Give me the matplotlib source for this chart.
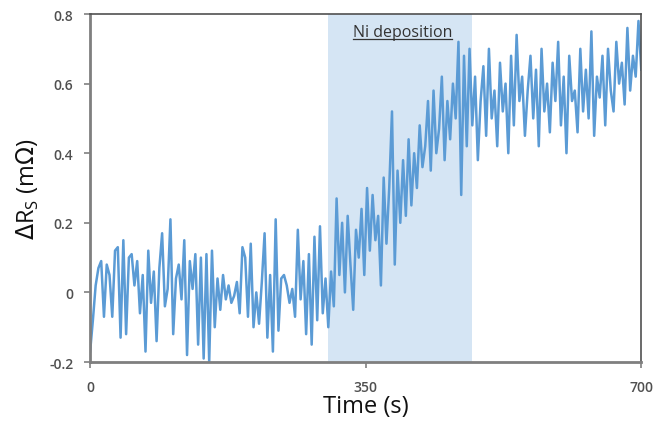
import numpy as np
import matplotlib
matplotlib.use("Agg")
import matplotlib.pyplot as plt

# sheet resistance change (evenly spaced over 0-700 s)
baseline = [
    -0.17, -0.08, 0.02, 0.07, 0.09, -0.07, 0.08, 0.05, -0.07, 0.12,
    0.13, -0.13, 0.15, -0.12, 0.10, 0.11, 0.02, 0.09, -0.06, 0.05,
    -0.17, 0.12, -0.03, 0.06, -0.14, 0.07, 0.17, -0.04, 0.01, 0.21,
    -0.12, 0.04, 0.08, -0.02, 0.15, -0.18, 0.09, 0.01, 0.11, -0.15,
    0.10, -0.19, 0.11, -0.20, 0.12, -0.10, 0.04, -0.05, 0.05, -0.02,
    0.02, -0.03, -0.01, 0.03, -0.06, 0.13, 0.10, -0.07, 0.14, -0.10,
    0.00, -0.09, 0.03, 0.17, -0.13, 0.05, -0.17, 0.21, -0.11, 0.04,
    0.05, 0.02, -0.03, 0.01, -0.07, 0.18, -0.02, 0.09, -0.12, 0.11,
    -0.15, 0.16, -0.08, 0.19, -0.06, 0.04, -0.10,
]
rising = [
    0.06, -0.04, 0.27, 0.05, 0.20, 0.00, 0.22, 0.08, -0.05, 0.18,
    0.10, 0.24, 0.05, 0.30, 0.12, 0.28, 0.15, 0.22, 0.02, 0.33,
    0.14, 0.30, 0.52, 0.08, 0.35, 0.20, 0.38, 0.22, 0.44, 0.25,
    0.40, 0.30, 0.48, 0.36,
]
transition = [
    0.42, 0.55, 0.35, 0.58, 0.40, 0.47, 0.62, 0.38, 0.55, 0.44,
    0.60, 0.50, 0.72, 0.28, 0.68, 0.42, 0.70,
]
plateau = [
    0.48, 0.62, 0.38, 0.55, 0.65, 0.45, 0.70, 0.50, 0.58, 0.42,
    0.66, 0.52, 0.60, 0.40, 0.68, 0.48, 0.74, 0.55, 0.62, 0.45,
    0.58, 0.68, 0.50, 0.64, 0.42, 0.70, 0.52, 0.60, 0.46, 0.66,
    0.55, 0.72, 0.48, 0.62, 0.40, 0.68, 0.55, 0.58, 0.46, 0.70,
    0.52, 0.64, 0.50, 0.75, 0.45, 0.62, 0.56, 0.68, 0.48, 0.70,
    0.58, 0.52, 0.72, 0.60, 0.66, 0.54, 0.76, 0.58, 0.68, 0.62,
    0.78, 0.64,
]
delta_rs = baseline + rising + transition + plateau
t_end = 700
time = np.arange(len(delta_rs)) * t_end / (len(delta_rs) - 1)

deposition = (302, 485)
x_ticks = [0, 350, 700]
y_ticks = [-0.2, 0, 0.2, 0.4, 0.6, 0.8]
y_ticklabels = ["-0.2", "0", "0.2", "0.4", "0.6", "0.8"]

plt.rcParams["font.family"] = ["Open Sans", "DejaVu Sans"]

fig = plt.figure(figsize=(6.53, 4.35), dpi=100)
ax = fig.add_axes([0.138, 0.1655, 0.844, 0.80])

ax.axvspan(*deposition, color="#d5e5f4", zorder=0, lw=0)
ax.plot(time, delta_rs, color="#5b9bd5", lw=1.8, zorder=2)

ax.set_xlim(0, 700)
ax.set_ylim(-0.2, 0.8)
ax.set_xticks(x_ticks)
ax.set_xticklabels([str(v) for v in x_ticks])
ax.set_yticks(y_ticks)
ax.set_yticklabels(y_ticklabels)
ax.tick_params(axis="both", direction="out", length=4, width=1.2,
               color="#808080", labelcolor="#505050", labelsize=10)
ax.tick_params(axis="x", pad=9)
ax.tick_params(axis="y", pad=8)
for lab in ax.get_xticklabels() + ax.get_yticklabels():
    lab.set_fontweight("semibold")

for side in ("left", "bottom"):
    ax.spines[side].set_color("#7f7f7f")
    ax.spines[side].set_linewidth(2)
for side in ("top", "right"):
    ax.spines[side].set_color("#505050")
    ax.spines[side].set_linewidth(1.2)

ax.set_xlabel("Time (s)", fontsize=17, color="#111111", labelpad=0)
ax.set_ylabel(r"$\Delta$R$_\mathregular{S}$ (m$\Omega$)", fontsize=17,
              color="#111111", labelpad=6)

txt = ax.text(397, 0.725, "Ni deposition", ha="center", va="bottom",
              fontsize=11.5, color="#333333", zorder=3)
fig.canvas.draw()
bb = txt.get_window_extent().transformed(ax.transData.inverted())
ax.plot([bb.x0, bb.x1], [bb.y0 + 0.002, bb.y0 + 0.002], color="#333333",
        lw=0.9, zorder=3)

fig.savefig("out.png", dpi=100)
